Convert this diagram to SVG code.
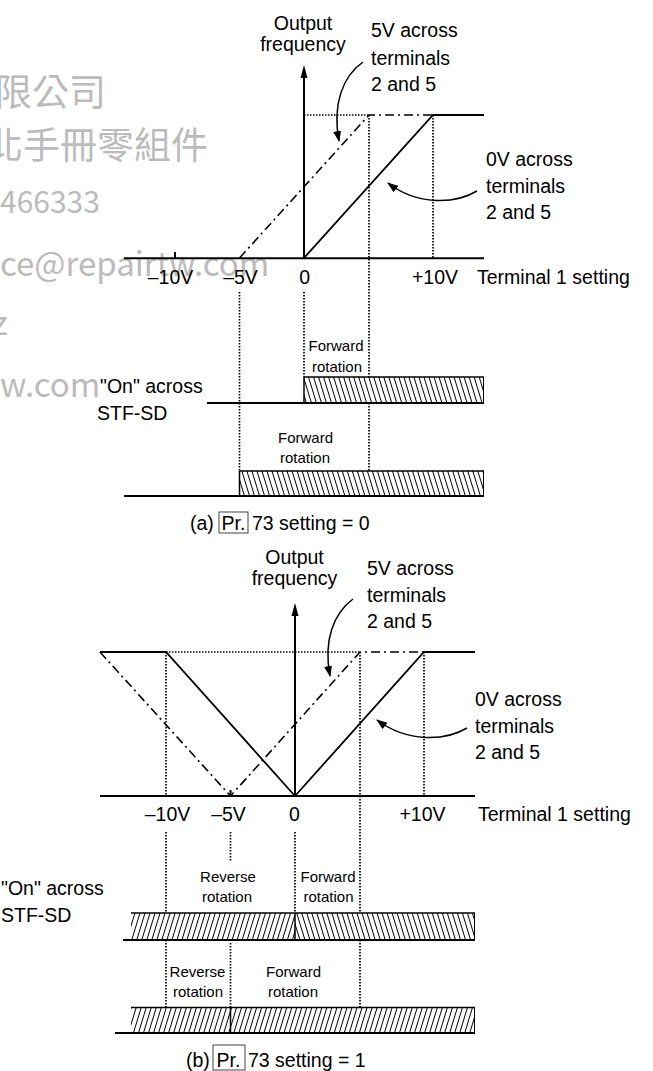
<svg xmlns="http://www.w3.org/2000/svg" width="653" height="1071" viewBox="0 0 653 1071">
<style>
.t{font-family:"Liberation Sans",Arial,sans-serif;font-size:19.5px;fill:#000}
.s{font-size:15px}
.m{text-anchor:middle}
.wm{font-family:"Noto Sans CJK TC","Noto Sans",sans-serif;fill:#bbb}
.ln{stroke:#000;stroke-width:1.8;fill:none}
.ax{stroke:#000;stroke-width:2;fill:none}
.dot{stroke:#000;stroke-width:1.7;stroke-dasharray:1.5 1.5;fill:none}
.dd{stroke:#000;stroke-width:1.6;stroke-dasharray:9 4 2 4;fill:none}
.cv{stroke:#000;stroke-width:1.5;fill:none;marker-end:url(#ah)}
.bt{stroke:#000;stroke-width:1.5;fill:none}
.bx{stroke:#444;stroke-width:1;fill:none}
</style>
<defs>
<marker id="ah" markerUnits="userSpaceOnUse" markerWidth="11" markerHeight="8" refX="10" refY="4" orient="auto"><path d="M0,0 L11,4 L0,8 z" fill="#000"/></marker>
<pattern id="hf" width="4.8" height="20" patternUnits="userSpaceOnUse" patternTransform="rotate(-17)"><line x1="2.4" y1="0" x2="2.4" y2="20" stroke="#000" stroke-width="1"/></pattern>
<pattern id="hr" width="4.8" height="20" patternUnits="userSpaceOnUse" patternTransform="rotate(17)"><line x1="2.4" y1="0" x2="2.4" y2="20" stroke="#000" stroke-width="1"/></pattern>
</defs>
<rect width="653" height="1071" fill="#fff"/>
<g id="watermark" class="wm">
<text x="-5" y="106" font-size="37">限公司</text>
<text x="-14" y="159" font-size="37">北手冊零組件</text>
<text x="0" y="213" font-size="30">466333</text>
<text x="0" y="276" font-size="33">ce@repairtw.com</text>
<text x="-8" y="335" font-size="33">z</text>
<text x="0" y="397" font-size="33">w.com</text>
</g>
<g id="graph-a">
<line class="ax" x1="124" y1="258.3" x2="484" y2="258.3"/>
<line class="ax" x1="304" y1="76" x2="304" y2="258.3"/>
<polygon points="304,65 300.5,78 307.5,78" fill="#000"/>
<line class="ax" x1="175" y1="252" x2="175" y2="258"/>
<line class="dot" x1="304" y1="115" x2="369" y2="115"/>
<line class="dot" x1="369" y1="115" x2="369" y2="377"/>
<line class="dot" x1="369" y1="403" x2="369" y2="471"/>
<line class="dot" x1="433" y1="115" x2="433" y2="258"/>
<line class="dot" x1="304" y1="292" x2="304" y2="377"/>
<line class="dot" x1="239.5" y1="292" x2="239.5" y2="471"/>
<polyline class="dd" points="239.5,258 369,115 433,115"/>
<polyline class="ln" points="304,258 433,115 484,115"/>
</g>
<g id="bars-a">
<rect x="304" y="377" width="180" height="26" fill="url(#hf)"/>
<line class="bt" x1="304" y1="377" x2="484" y2="377"/>
<line class="bt" x1="304" y1="377" x2="304" y2="403"/>
<line stroke="#000" stroke-width="1" x1="483.5" y1="377" x2="483.5" y2="403"/>
<line class="ax" x1="207" y1="403" x2="484" y2="403"/>
<rect x="239.5" y="471" width="244.5" height="25" fill="url(#hf)"/>
<line class="bt" x1="239.5" y1="471" x2="484" y2="471"/>
<line class="bt" x1="239.5" y1="471" x2="239.5" y2="496"/>
<line stroke="#000" stroke-width="1" x1="483.5" y1="471" x2="483.5" y2="496"/>
<line class="ax" x1="124" y1="496" x2="484" y2="496"/>
</g>
<g id="connectors">
<path class="cv" d="M363,62 C343,76 332,104 339,141"/>
<path class="cv" d="M477,191 C455,204 418,206 388,183"/>
<path class="cv" d="M353,599 C334,613 323,640 330,676"/>
<path class="cv" d="M467,728 C445,741 408,743 377,720"/>
</g>
<g id="labels-a" class="t">
<text class="m" x="303" y="29.5">Output</text>
<text class="m" x="303" y="51">frequency</text>
<text x="371" y="37">5V across</text>
<text x="371" y="65">terminals</text>
<text x="371" y="91">2 and 5</text>
<text x="486" y="166">0V across</text>
<text x="486" y="193">terminals</text>
<text x="486" y="218.5">2 and 5</text>
<text class="m" x="170.5" y="284">–10V</text>
<text class="m" x="240.5" y="284">–5V</text>
<text class="m" x="304.7" y="284">0</text>
<text class="m" x="435" y="284">+10V</text>
<text x="477" y="284">Terminal 1 setting</text>
<text class="s m" x="336" y="351">Forward</text>
<text class="s m" x="337" y="372">rotation</text>
<text class="s m" x="305.5" y="443">Forward</text>
<text class="s m" x="305" y="463">rotation</text>
<text x="100" y="393">"On" across</text>
<text x="97" y="420">STF-SD</text>
<text x="190" y="530">(a)</text>
<rect class="bx" x="219" y="512" width="29" height="21"/>
<text x="221.5" y="530">Pr.</text>
<text x="252" y="530">73 setting = 0</text>
</g>
<g id="graph-b">
<line class="ax" x1="100" y1="796" x2="475" y2="796"/>
<line class="ax" x1="295" y1="614" x2="295" y2="796"/>
<polygon points="295,603 291.5,616 298.5,616" fill="#000"/>
<line class="ax" x1="230.5" y1="790" x2="230.5" y2="796"/>
<line class="dot" x1="166" y1="652" x2="360" y2="652"/>
<line class="dot" x1="166" y1="652" x2="166" y2="796"/>
<line class="dot" x1="166" y1="832" x2="166" y2="913"/>
<line class="dot" x1="166" y1="940" x2="166" y2="1007"/>
<line class="dot" x1="230.5" y1="832" x2="230.5" y2="862"/>
<line class="dot" x1="230.5" y1="943" x2="230.5" y2="1007"/>
<line class="dot" x1="295" y1="832" x2="295" y2="913"/>
<line class="dot" x1="360" y1="652" x2="360" y2="913"/>
<line class="dot" x1="360" y1="940" x2="360" y2="1007"/>
<line class="dot" x1="424" y1="652" x2="424" y2="796"/>
<polyline class="dd" points="100,652 230.5,796 360,652 424,652"/>
<polyline class="ln" points="100,652 166,652 295,796 424,652 475,652"/>
</g>
<g id="bars-b">
<rect x="131" y="913" width="164" height="27" fill="url(#hr)"/>
<rect x="295" y="913" width="180" height="27" fill="url(#hf)"/>
<line class="bt" x1="131" y1="913" x2="475" y2="913"/>
<line class="bt" x1="295" y1="913" x2="295" y2="940"/>
<line stroke="#000" stroke-width="1" x1="474.5" y1="913" x2="474.5" y2="940"/>
<line class="ax" x1="123" y1="940" x2="475" y2="940"/>
<rect x="131" y="1007.5" width="344" height="25.5" fill="url(#hr)"/>
<line class="bt" x1="131" y1="1007.5" x2="475" y2="1007.5"/>
<line class="bt" x1="230.5" y1="1007.5" x2="230.5" y2="1033"/>
<line stroke="#000" stroke-width="1" x1="474.5" y1="1007.5" x2="474.5" y2="1033"/>
<line class="ax" x1="115" y1="1033" x2="475" y2="1033"/>
</g>
<g id="labels-b" class="t">
<text class="m" x="294.5" y="564">Output</text>
<text class="m" x="294.5" y="585">frequency</text>
<text x="367" y="575">5V across</text>
<text x="367" y="601.7">terminals</text>
<text x="367" y="628">2 and 5</text>
<text x="475" y="706">0V across</text>
<text x="475" y="733">terminals</text>
<text x="475" y="759">2 and 5</text>
<text class="m" x="167.5" y="821">–10V</text>
<text class="m" x="228.5" y="821">–5V</text>
<text class="m" x="294.5" y="821">0</text>
<text class="m" x="422.5" y="821">+10V</text>
<text x="478" y="821">Terminal 1 setting</text>
<text class="s m" x="228" y="882">Reverse</text>
<text class="s m" x="227" y="902">rotation</text>
<text class="s m" x="328" y="882">Forward</text>
<text class="s m" x="328.5" y="902">rotation</text>
<text x="1" y="895">"On" across</text>
<text x="1" y="922">STF-SD</text>
<text class="s m" x="197.5" y="977">Reverse</text>
<text class="s m" x="198" y="997">rotation</text>
<text class="s m" x="293.5" y="977">Forward</text>
<text class="s m" x="293" y="997">rotation</text>
<text x="186" y="1067">(b)</text>
<rect class="bx" x="213" y="1045" width="32" height="25"/>
<text x="216.5" y="1067">Pr.</text>
<text x="248" y="1067">73 setting = 1</text>
</g>
</svg>
